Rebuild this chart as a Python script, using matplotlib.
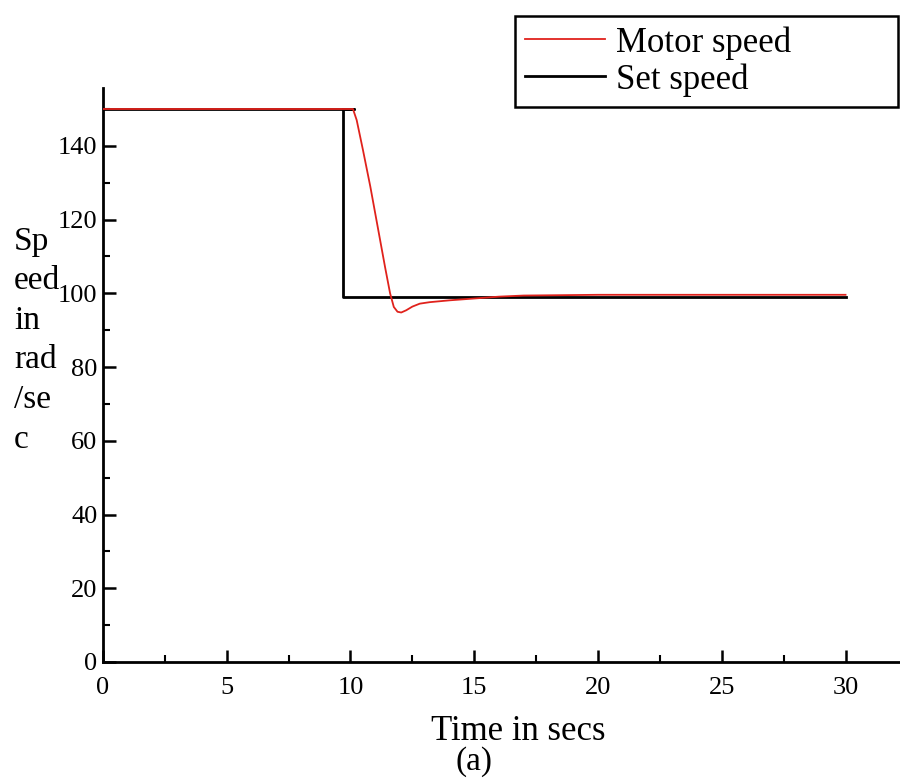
import matplotlib
matplotlib.use("Agg")
import matplotlib.pyplot as plt
from matplotlib.ticker import MultipleLocator

# values
motor_t = [0, 10.1, 10.25, 10.5, 10.8, 11.1, 11.4, 11.6, 11.75, 11.9, 12.05, 12.25,
           12.5, 12.8, 13.2, 14.0, 15.0, 16.0, 17.0, 20.0, 30.0]
motor_v = [150, 150, 147.0, 139, 129, 118, 107, 100.0, 96.3, 95.0, 94.8, 95.4,
           96.4, 97.2, 97.6, 98.1, 98.6, 99.1, 99.4, 99.6, 99.6]

set_t = [0, 10.15, 9.7, 9.7, 30]
set_v = [150, 150, 150, 99, 99]

x_ticks = [0, 5, 10, 15, 20, 25, 30]
y_ticks = [0, 20, 40, 60, 80, 100, 120, 140]

plt.rcParams["font.family"] = ["Liberation Serif", "DejaVu Serif"]

fig = plt.figure(figsize=(9, 7.8), dpi=100)
ax = fig.add_axes([0.1144, 0.1513, 0.8856, 0.7359])

ax.plot(motor_t, motor_v, color="#e0221c", linewidth=1.3, zorder=3, label="Motor speed")
ax.plot(set_t, set_v, color="black", linewidth=2.0, zorder=2, label="Set speed")

ax.set_xlim(0, 32.2)
ax.set_ylim(0, 155.7)
ax.set_xticks(x_ticks)
ax.set_yticks(y_ticks)
ax.xaxis.set_minor_locator(MultipleLocator(2.5))
ax.yaxis.set_minor_locator(MultipleLocator(10))

ax.spines["top"].set_visible(False)
ax.spines["right"].set_visible(False)
ax.spines["left"].set_linewidth(2)
ax.spines["bottom"].set_linewidth(2)

ax.tick_params(axis="both", which="major", direction="in", length=9, width=1.8, labelsize=19)
ax.tick_params(axis="both", which="minor", direction="in", length=5, width=1.5)
ax.tick_params(axis="x", which="major", pad=11)
ax.tick_params(axis="y", which="major", pad=4)

fig.text(14 / 900, 1 - 226 / 780, "Sp\need\nin\nrad\n/se\nc", fontsize=24,
         ha="left", va="top", linespacing=1.39)

fig.text(518 / 900, 1 - 731 / 780, "Time in secs", fontsize=25, ha="center", va="center")
fig.text(474 / 900, 1 - 762 / 780, "(a)", fontsize=24, ha="center", va="center")

leg = fig.legend(loc="lower left", bbox_to_anchor=(515 / 900, 1 - 107 / 780, 383 / 900, 96 / 780),
                 mode="expand", fontsize=25,
                 frameon=True, fancybox=False, edgecolor="black", framealpha=1,
                 handlelength=2.3, handletextpad=0.3, borderpad=0.3,
                 labelspacing=0.1, borderaxespad=0)
leg.get_frame().set_linewidth(1.8)

fig.savefig("out.png", dpi=100)
